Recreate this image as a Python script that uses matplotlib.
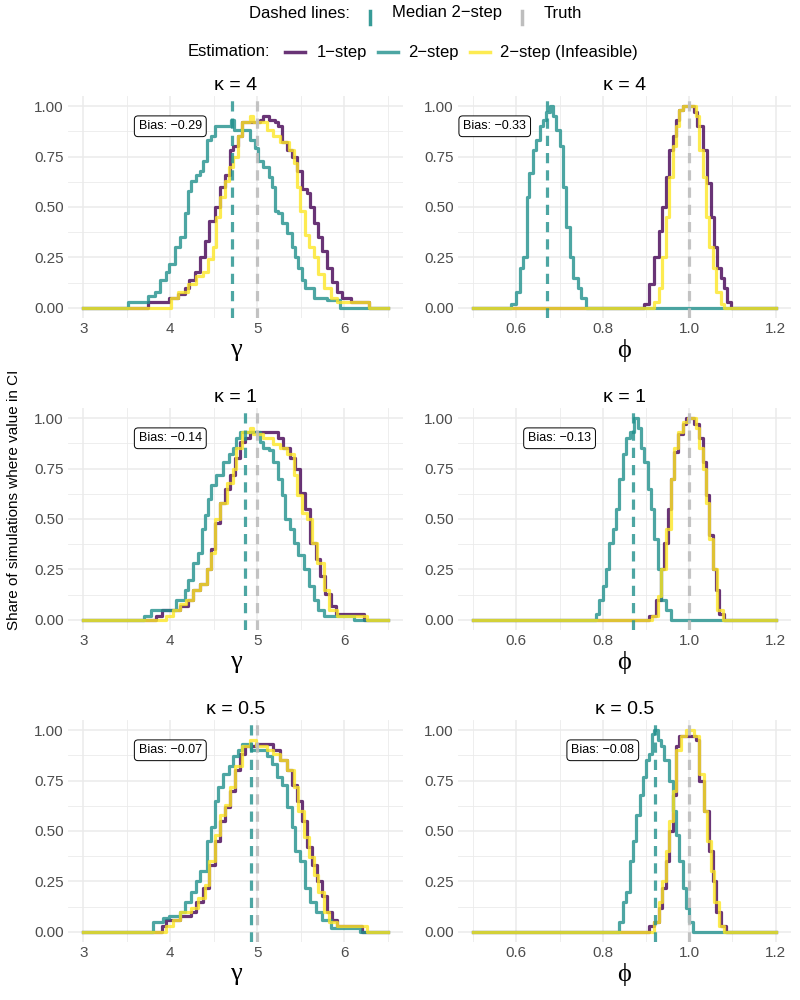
import numpy as np
import matplotlib.pyplot as plt
from matplotlib.lines import Line2D

plt.rcParams['font.family'] = ['Liberation Sans', 'DejaVu Sans']

kappas = ['4', '1', '0.5']
truth_gamma = 5.0
truth_phi = 1.0
bias_gamma = [-0.29, -0.14, -0.07]
bias_phi = [-0.33, -0.13, -0.08]
label_x_gamma = [4.0, 4.0, 4.0]
label_x_phi = [0.55, 0.70, 0.80]
label_y = 0.9

# share of simulations with value in CI, read off as step breakpoints
# gamma, kappa = 4
gam4_one_x = [3.0, 3.74, 3.99, 4.09, 4.17, 4.22, 4.28, 4.34, 4.40, 4.45, 4.51, 4.57, 4.63, 4.68, 4.72, 4.78, 4.82, 5.03, 5.07, 5.13,
              5.20, 5.24, 5.28, 5.34, 5.40, 5.45, 5.51, 5.57, 5.61, 5.65, 5.70, 5.74, 5.80, 5.86, 5.92, 5.97, 6.07, 6.28, 6.5]
gam4_one_y = [0, 0.03, 0.05, 0.07, 0.10, 0.14, 0.18, 0.25, 0.33, 0.43, 0.50, 0.60, 0.66, 0.78, 0.80, 0.85, 0.92, 0.93, 0.95, 0.93,
              0.92, 0.90, 0.82, 0.78, 0.75, 0.68, 0.59, 0.57, 0.50, 0.42, 0.35, 0.28, 0.20, 0.13, 0.08, 0.05, 0.03, 0, 0]
gam4_two_x = [3.0, 3.51, 3.74, 3.82, 3.88, 3.95, 3.99, 4.05, 4.11, 4.17, 4.20, 4.24, 4.30, 4.34, 4.38, 4.42, 4.47, 4.51, 4.70, 4.73,
              4.92, 4.97, 5.01, 5.07, 5.13, 5.17, 5.20, 5.24, 5.28, 5.34, 5.40, 5.43, 5.47, 5.51, 5.55, 5.65, 5.80, 5.95, 6.5]
gam4_two_y = [0, 0.03, 0.06, 0.08, 0.14, 0.18, 0.22, 0.30, 0.35, 0.47, 0.58, 0.63, 0.66, 0.68, 0.73, 0.83, 0.85, 0.90, 0.93, 0.88,
              0.83, 0.79, 0.73, 0.70, 0.65, 0.60, 0.48, 0.47, 0.42, 0.37, 0.30, 0.25, 0.20, 0.14, 0.10, 0.05, 0.04, 0, 0]
gam4_inf_x = [3.0, 4.01, 4.09, 4.20, 4.30, 4.38, 4.43, 4.49, 4.53, 4.57, 4.63, 4.67, 4.72, 4.78, 4.82, 4.92, 4.95, 5.11, 5.18, 5.26,
              5.36, 5.42, 5.45, 5.49, 5.55, 5.59, 5.65, 5.70, 5.76, 5.84, 5.92, 6.28, 6.5]
gam4_inf_y = [0, 0.05, 0.08, 0.12, 0.16, 0.18, 0.24, 0.30, 0.45, 0.55, 0.63, 0.70, 0.75, 0.85, 0.92, 0.95, 0.92, 0.88, 0.85, 0.82,
              0.78, 0.72, 0.60, 0.48, 0.36, 0.30, 0.25, 0.17, 0.10, 0.05, 0.03, 0, 0]

# phi, kappa = 4
phi4_one_x = [0.5, 0.896, 0.908, 0.919, 0.931, 0.938, 0.946, 0.954, 0.962, 0.969, 0.977, 0.985, 1.012, 1.019, 1.031, 1.042,
              1.05, 1.058, 1.065, 1.073, 1.081, 1.088, 1.096, 1.2]
phi4_one_y = [0, 0.02, 0.12, 0.25, 0.38, 0.50, 0.65, 0.78, 0.85, 0.93, 0.98, 1.00, 0.97, 0.90, 0.78, 0.62,
              0.45, 0.30, 0.20, 0.15, 0.10, 0.03, 0, 0]
phi4_two_x = [0.5, 0.588, 0.60, 0.608, 0.615, 0.625, 0.63, 0.638, 0.646, 0.654, 0.662, 0.669, 0.677, 0.685, 0.692, 0.70,
              0.708, 0.715, 0.723, 0.731, 0.742, 0.75, 0.762, 1.2]
phi4_two_y = [0, 0.02, 0.08, 0.20, 0.25, 0.55, 0.67, 0.78, 0.83, 0.90, 0.93, 0.97, 1.00, 0.95, 0.88, 0.80,
              0.60, 0.40, 0.25, 0.15, 0.10, 0.05, 0, 0]
phi4_inf_x = [0.5, 0.919, 0.931, 0.938, 0.946, 0.954, 0.962, 0.969, 0.977, 0.985, 1.015, 1.023, 1.031, 1.038, 1.046, 1.054,
              1.062, 1.073, 1.081, 1.2]
phi4_inf_y = [0, 0.03, 0.10, 0.25, 0.45, 0.65, 0.80, 0.90, 0.98, 1.00, 0.95, 0.78, 0.65, 0.45, 0.30, 0.20,
              0.08, 0.02, 0, 0]

# gamma, kappa = 1
gam1_one_x = [3.0, 3.84, 3.90, 4.11, 4.20, 4.26, 4.34, 4.42, 4.47, 4.51, 4.57, 4.63, 4.68, 4.74, 4.80, 4.86, 4.92, 5.24, 5.30, 5.38,
              5.43, 5.49, 5.55, 5.61, 5.67, 5.72, 5.78, 5.84, 5.90, 6.22, 6.5]
gam1_one_y = [0, 0.02, 0.05, 0.07, 0.10, 0.15, 0.18, 0.25, 0.35, 0.48, 0.58, 0.65, 0.72, 0.80, 0.88, 0.90, 0.93, 0.90, 0.85, 0.80,
              0.75, 0.63, 0.55, 0.38, 0.30, 0.22, 0.13, 0.07, 0.03, 0, 0]
gam1_two_x = [3.0, 3.70, 3.78, 4.07, 4.17, 4.20, 4.26, 4.32, 4.36, 4.40, 4.43, 4.47, 4.53, 4.61, 4.67, 4.72, 4.76, 4.80, 5.03, 5.07,
              5.13, 5.18, 5.24, 5.28, 5.32, 5.38, 5.42, 5.47, 5.53, 5.59, 5.65, 5.70, 5.76, 6.11, 6.5]
gam1_two_y = [0, 0.02, 0.05, 0.10, 0.15, 0.20, 0.28, 0.33, 0.45, 0.52, 0.60, 0.67, 0.72, 0.78, 0.82, 0.85, 0.90, 0.93, 0.88, 0.85,
              0.84, 0.78, 0.70, 0.62, 0.50, 0.45, 0.38, 0.32, 0.25, 0.17, 0.10, 0.05, 0.02, 0, 0]
gam1_inf_x = [3.0, 3.95, 4.03, 4.11, 4.18, 4.26, 4.34, 4.42, 4.47, 4.51, 4.57, 4.65, 4.72, 4.76, 4.82, 4.92, 4.95, 5.07, 5.18, 5.26,
              5.34, 5.42, 5.45, 5.51, 5.57, 5.63, 5.68, 5.76, 5.82, 5.92, 6.26, 6.5]
gam1_inf_y = [0, 0.02, 0.05, 0.08, 0.10, 0.15, 0.18, 0.25, 0.33, 0.50, 0.58, 0.68, 0.75, 0.85, 0.93, 0.95, 0.92, 0.90, 0.87, 0.85,
              0.82, 0.72, 0.62, 0.53, 0.50, 0.38, 0.28, 0.15, 0.05, 0.02, 0, 0]

# phi, kappa = 1
phi1_one_x = [0.5, 0.908, 0.923, 0.935, 0.942, 0.95, 0.958, 0.965, 0.973, 0.985, 0.992, 1.012, 1.023, 1.031, 1.038, 1.046,
              1.054, 1.062, 1.069, 1.081, 1.2]
phi1_one_y = [0, 0.02, 0.10, 0.25, 0.38, 0.55, 0.70, 0.83, 0.92, 0.97, 1.00, 0.97, 0.90, 0.78, 0.62, 0.42,
              0.25, 0.15, 0.03, 0, 0]
phi1_two_x = [0.5, 0.785, 0.792, 0.80, 0.808, 0.815, 0.823, 0.831, 0.838, 0.846, 0.854, 0.862, 0.873, 0.881, 0.888, 0.896,
              0.904, 0.912, 0.919, 0.927, 0.935, 0.946, 0.958, 1.2]
phi1_two_y = [0, 0.03, 0.10, 0.17, 0.25, 0.38, 0.45, 0.55, 0.70, 0.82, 0.90, 0.93, 1.00, 0.95, 0.85, 0.78,
              0.65, 0.55, 0.40, 0.25, 0.10, 0.05, 0, 0]
phi1_inf_x = [0.5, 0.915, 0.927, 0.935, 0.946, 0.958, 0.965, 0.973, 0.985, 0.996, 1.015, 1.023, 1.031, 1.038, 1.046, 1.054,
              1.065, 1.077, 1.2]
phi1_inf_y = [0, 0.02, 0.12, 0.25, 0.45, 0.70, 0.85, 0.93, 0.98, 1.00, 0.95, 0.85, 0.75, 0.58, 0.40, 0.25,
              0.05, 0, 0]

# gamma, kappa = 0.5
gam05_one_x = [3.0, 3.90, 3.95, 4.11, 4.24, 4.30, 4.38, 4.45, 4.51, 4.57, 4.63, 4.68, 4.74, 4.80, 4.86, 4.99, 5.18, 5.26, 5.34, 5.40,
               5.45, 5.51, 5.57, 5.63, 5.68, 5.74, 5.80, 5.86, 5.92, 6.20, 6.5]
gam05_one_y = [0, 0.03, 0.06, 0.08, 0.10, 0.15, 0.22, 0.33, 0.45, 0.55, 0.62, 0.70, 0.80, 0.88, 0.92, 0.93, 0.90, 0.85, 0.80, 0.73,
               0.65, 0.55, 0.42, 0.33, 0.25, 0.18, 0.10, 0.06, 0.03, 0, 0]
gam05_two_x = [3.0, 3.80, 3.92, 3.99, 4.11, 4.17, 4.24, 4.30, 4.34, 4.42, 4.47, 4.51, 4.55, 4.61, 4.67, 4.72, 4.78, 4.82, 4.93, 5.11,
               5.17, 5.22, 5.28, 5.34, 5.40, 5.43, 5.49, 5.55, 5.61, 5.67, 5.74, 5.84, 6.18, 6.5]
gam05_two_y = [0, 0.05, 0.07, 0.08, 0.10, 0.15, 0.20, 0.25, 0.30, 0.45, 0.52, 0.65, 0.72, 0.78, 0.82, 0.87, 0.90, 0.93, 0.90, 0.87,
               0.83, 0.77, 0.73, 0.62, 0.52, 0.40, 0.35, 0.22, 0.15, 0.10, 0.06, 0.02, 0, 0]
gam05_inf_x = [3.0, 3.95, 4.03, 4.11, 4.24, 4.32, 4.40, 4.45, 4.51, 4.57, 4.63, 4.68, 4.74, 4.82, 4.92, 4.99, 5.11, 5.18, 5.26, 5.34,
               5.42, 5.47, 5.53, 5.59, 5.65, 5.70, 5.76, 5.82, 5.92, 6.26, 6.5]
gam05_inf_y = [0, 0.03, 0.06, 0.10, 0.12, 0.17, 0.23, 0.35, 0.48, 0.58, 0.63, 0.72, 0.82, 0.92, 0.95, 0.92, 0.90, 0.88, 0.85, 0.80,
               0.72, 0.60, 0.47, 0.37, 0.28, 0.20, 0.10, 0.05, 0.03, 0, 0]

# phi, kappa = 0.5
phi05_one_x = [0.5, 0.908, 0.919, 0.931, 0.938, 0.946, 0.954, 0.962, 0.969, 0.977, 1.015, 1.023, 1.035, 1.046, 1.054, 1.062,
               1.073, 1.085, 1.2]
phi05_one_y = [0, 0.03, 0.05, 0.12, 0.22, 0.35, 0.50, 0.68, 0.92, 0.97, 0.95, 0.75, 0.60, 0.40, 0.25, 0.10,
               0.03, 0, 0]
phi05_two_x = [0.5, 0.838, 0.846, 0.854, 0.862, 0.869, 0.877, 0.885, 0.892, 0.90, 0.908, 0.915, 0.919, 0.927, 0.935, 0.942,
               0.954, 0.962, 0.969, 0.977, 0.985, 0.992, 1.0, 1.008, 1.2]
phi05_two_y = [0, 0.05, 0.15, 0.20, 0.35, 0.45, 0.58, 0.68, 0.77, 0.85, 0.88, 0.98, 1.00, 0.95, 0.92, 0.85,
               0.75, 0.60, 0.48, 0.35, 0.22, 0.12, 0.05, 0, 0]
phi05_inf_x = [0.5, 0.919, 0.931, 0.938, 0.946, 0.954, 0.962, 0.969, 0.981, 0.992, 1.012, 1.023, 1.035, 1.042, 1.05, 1.058,
               1.069, 1.081, 1.2]
phi05_inf_y = [0, 0.05, 0.15, 0.25, 0.40, 0.55, 0.70, 0.90, 0.97, 1.00, 0.97, 0.78, 0.60, 0.45, 0.30, 0.15,
               0.03, 0, 0]

gamma_series = [
    [(gam4_one_x, gam4_one_y), (gam4_two_x, gam4_two_y), (gam4_inf_x, gam4_inf_y)],
    [(gam1_one_x, gam1_one_y), (gam1_two_x, gam1_two_y), (gam1_inf_x, gam1_inf_y)],
    [(gam05_one_x, gam05_one_y), (gam05_two_x, gam05_two_y), (gam05_inf_x, gam05_inf_y)],
]
phi_series = [
    [(phi4_one_x, phi4_one_y), (phi4_two_x, phi4_two_y), (phi4_inf_x, phi4_inf_y)],
    [(phi1_one_x, phi1_one_y), (phi1_two_x, phi1_two_y), (phi1_inf_x, phi1_inf_y)],
    [(phi05_one_x, phi05_one_y), (phi05_two_x, phi05_two_y), (phi05_inf_x, phi05_inf_y)],
]

purple, teal, yellow = '#440154', '#21908C', '#FDE725'
cols = [purple, teal, yellow]
truth_col = '#BEBEBE'
serif = ['Liberation Serif', 'DejaVu Serif']

fig = plt.figure(figsize=(8, 10), dpi=100)
lefts = [0.085, 0.5725]
widths = [0.419, 0.416]
bottoms = [0.682, 0.370, 0.058]
height = 0.222


def style_axis(ax):
    for s in ax.spines.values():
        s.set_visible(False)
    ax.set_ylim(-0.05, 1.05)
    ax.set_yticks([0, 0.25, 0.5, 0.75, 1.0])
    ax.set_yticklabels(['0.00', '0.25', '0.50', '0.75', '1.00'])
    ax.set_yticks([0.125, 0.375, 0.625, 0.875], minor=True)
    ax.grid(which='major', color='#EBEBEB', lw=1.1)
    ax.grid(which='minor', color='#EBEBEB', lw=0.6)
    ax.set_axisbelow(True)
    ax.tick_params(which='both', length=0, labelsize=11, labelcolor='#4D4D4D', pad=3)


def bias_text(b):
    return 'Bias: ' + f'{b:.2f}'.replace('-', '\u2212')


box = dict(boxstyle='round,pad=0.35,rounding_size=0.3', fc='white', ec='black', lw=0.7)

for r in range(3):
    # gamma column
    ax = fig.add_axes([lefts[0], bottoms[r], widths[0], height])
    style_axis(ax)
    for (x, y), c in zip(gamma_series[r], cols):
        ax.plot(x, y, drawstyle='steps-post', color=c, alpha=0.8, lw=2.3, zorder=2)
    ax.axvline(truth_gamma + bias_gamma[r], color=teal, alpha=0.8, lw=2.3, ls=(0, (3.2, 2.2)), zorder=3)
    ax.axvline(truth_gamma, color=truth_col, alpha=0.9, lw=2.3, ls=(0, (3.2, 2.2)), zorder=3)
    ax.set_xlim(2.825, 6.675)
    ax.set_xticks([3, 4, 5, 6])
    ax.set_xticks([3.5, 4.5, 5.5, 6.5], minor=True)
    ax.text(label_x_gamma[r], label_y, bias_text(bias_gamma[r]), ha='center', va='center', fontsize=9, zorder=5, bbox=box)
    ax.set_title(f'\u03ba = {kappas[r]}', fontsize=14, pad=4)
    ax.set_xlabel('\u03b3', fontsize=19, family=serif, labelpad=2)

    # phi column
    ax = fig.add_axes([lefts[1], bottoms[r], widths[1], height])
    style_axis(ax)
    for (x, y), c in zip(phi_series[r], cols):
        ax.plot(x, y, drawstyle='steps-post', color=c, alpha=0.8, lw=2.3, zorder=2)
    ax.axvline(truth_phi + bias_phi[r], color=teal, alpha=0.8, lw=2.3, ls=(0, (3.2, 2.2)), zorder=3)
    ax.axvline(truth_phi, color=truth_col, alpha=0.9, lw=2.3, ls=(0, (3.2, 2.2)), zorder=3)
    ax.set_xlim(0.465, 1.235)
    ax.set_xticks([0.6, 0.8, 1.0, 1.2])
    ax.set_xticklabels(['0.6', '0.8', '1.0', '1.2'])
    ax.set_xticks([0.5, 0.7, 0.9, 1.1], minor=True)
    ax.text(label_x_phi[r], label_y, bias_text(bias_phi[r]), ha='center', va='center', fontsize=9, zorder=5, bbox=box)
    ax.set_title(f'\u03ba = {kappas[r]}', fontsize=14, pad=4)
    ax.set_xlabel('\u03d5', fontsize=19, family=serif, labelpad=2)

fig.text(0.017, 0.50, 'Share of simulations where value in CI', rotation=90, ha='center', va='center', fontsize=11)

# legends
fig.text(0.4375, 0.987, 'Dashed lines:', ha='right', va='center', fontsize=12)
fig.add_artist(Line2D([0.4625, 0.4625], [0.976, 0.989], transform=fig.transFigure, color=teal, alpha=0.9, lw=2.5))
fig.text(0.49, 0.987, 'Median 2\u2212step', ha='left', va='center', fontsize=12)
fig.add_artist(Line2D([0.653, 0.653], [0.976, 0.989], transform=fig.transFigure, color=truth_col, lw=2.5))
fig.text(0.679, 0.987, 'Truth', ha='left', va='center', fontsize=12)

fig.text(0.3375, 0.948, 'Estimation:', ha='right', va='center', fontsize=12)
for x0, x1, c, lab in [(0.356, 0.396, purple, '1\u2212step'), (0.4725, 0.51, teal, '2\u2212step'),
                       (0.5875, 0.625, yellow, '2\u2212step (Infeasible)')]:
    fig.add_artist(Line2D([x0, x0 + 0.025], [0.948, 0.948], transform=fig.transFigure, color=c, alpha=0.8, lw=2.5))
    fig.text(x1, 0.948, lab, ha='left', va='center', fontsize=12)

fig.savefig('out.png', dpi=100, facecolor='white')
